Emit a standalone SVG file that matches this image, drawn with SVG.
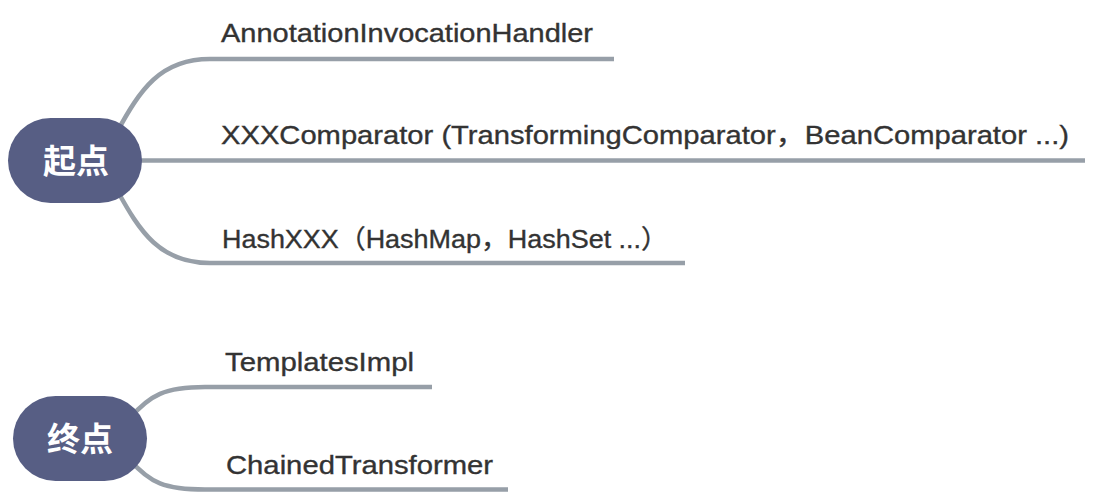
<svg xmlns="http://www.w3.org/2000/svg" width="1094" height="494" viewBox="0 0 1094 494">
<style>
.conn{fill:none;stroke:#979fa8;stroke-width:4.5;stroke-linecap:butt}
.root{fill:#575e84}
.rt{font-family:"Noto Sans CJK SC","Liberation Sans",sans-serif;font-weight:bold;font-size:33px;fill:#ffffff;text-anchor:middle}
.lbl{font-family:"Liberation Sans","Noto Sans CJK SC",sans-serif;font-size:26px;fill:#333333;stroke:#333333;stroke-width:0.35}
</style>
<rect width="1094" height="494" fill="#ffffff"/>
<g id="connectors">
<path class="conn" d="M117,132 C140,90 160,59 210,59 L614,59"/>
<path class="conn" d="M120,160.5 L1085,160.5"/>
<path class="conn" d="M117,190 C140,232 160,263 210,263 L685,263"/>
<path class="conn" d="M130,418 C150,395 165,387 205,387 L432,387"/>
<path class="conn" d="M130,460 C150,483 165,489.5 205,489.5 L508,489.5"/>
</g>
<g id="root-start">
<rect class="root" x="8" y="118" width="134" height="85" rx="42.5"/>
<text class="rt" x="76" y="173">起点</text>
</g>
<g id="root-end">
<rect class="root" x="13" y="396" width="134" height="85" rx="42.5"/>
<text class="rt" x="80" y="450.5">终点</text>
</g>
<g id="node-annotation">
<text class="lbl" x="221" y="42" textLength="372" lengthAdjust="spacingAndGlyphs">AnnotationInvocationHandler</text>
</g>
<g id="node-comparator">
<text class="lbl" x="221" y="144" textLength="848" lengthAdjust="spacingAndGlyphs">XXXComparator (TransformingComparator，BeanComparator ...)</text>
</g>
<g id="node-hash">
<text class="lbl" x="222" y="248" textLength="446" lengthAdjust="spacingAndGlyphs">HashXXX（HashMap，HashSet ...）</text>
</g>
<g id="node-templates">
<text class="lbl" x="225" y="370.5" textLength="189" lengthAdjust="spacingAndGlyphs">TemplatesImpl</text>
</g>
<g id="node-chained">
<text class="lbl" x="226" y="473.5" textLength="267" lengthAdjust="spacingAndGlyphs">ChainedTransformer</text>
</g>
</svg>
